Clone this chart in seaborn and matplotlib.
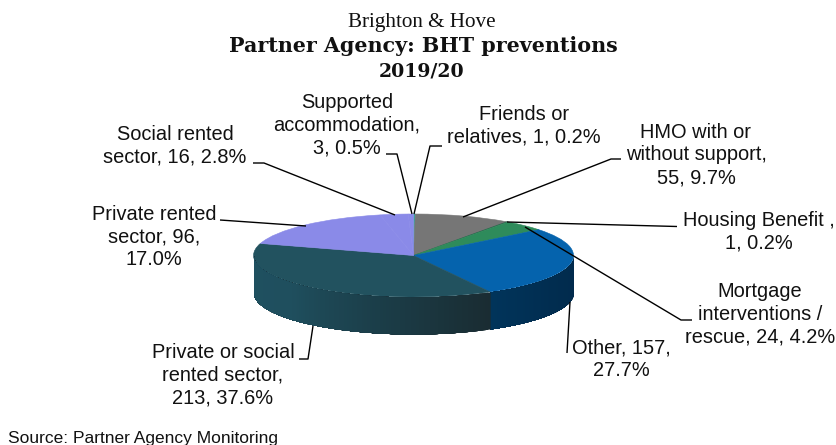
import numpy as np
import pandas as pd
import seaborn as sns
import matplotlib
matplotlib.use("Agg")
import matplotlib.pyplot as plt

categories = ["Friends or relatives", "HMO with or without support", "Housing Benefit",
              "Mortgage interventions / rescue", "Other", "Private or social rented sector",
              "Private rented sector", "Social rented sector", "Supported accommodation"]
counts = [1, 55, 1, 24, 157, 213, 96, 16, 3]
percents = ["0.2%", "9.7%", "0.2%", "4.2%", "27.7%", "37.6%", "17.0%", "2.8%", "0.5%"]
top_colors = ["#35a6a0", "#767676", "#2f5f4c", "#2e8b5b", "#0563ad", "#22525f",
              "#8a8ae8", "#8a8ae8", "#8a8ae8"]
# side wall shades, only the slices on the front half show
wall_colors = {4: ["#012a4c", "#012d50", "#01345a"],
               5: ["#1a2c32", "#1b3d48", "#1f4f5e", "#1f5060"]}

title_top = "Brighton & Hove"
title_main = "Partner Agency: BHT preventions"
title_year = "2019/20"
source_note = "Source: Partner Agency Monitoring"

df = pd.DataFrame({"category": categories, "count": counts, "pct": percents})

sns.set_theme(style="white")
plt.rcParams["font.family"] = ["Liberation Sans", "DejaVu Sans"]

W, H = 836, 445
CX, CY, RX, RY, DEPTH = 413.5, 255.5, 160, 41.5, 37

fig = plt.figure(figsize=(W / 100, H / 100), dpi=100)
ax = fig.add_axes([0, 0, 1, 1])


def px(x, y):
    # picture pixels to the pie's unit circle coordinates
    return (x - CX) / RX, (CY - y) / RY


# top of the pie
wedges, _ = ax.pie(df["count"], colors=top_colors, startangle=90, counterclock=False,
                   center=(0, 0), radius=1)
for w in wedges:
    w.set_edgecolor(w.get_facecolor())
    w.set_linewidth(0.4)
ax.set_aspect("auto")
ax.set_xlim(px(0, 0)[0], px(W, 0)[0])
ax.set_ylim(px(0, H)[1], px(0, 0)[1])
ax.axis("off")

# side wall: overlapping strips along the front half, shaded from each slice's palette
edges = np.cumsum([0] + counts) / sum(counts) * 360
depth = DEPTH / RY
for i in range(len(counts)):
    a0, a1 = edges[i], edges[i + 1]
    a0, a1 = max(a0, 90), min(a1, 270)
    if a1 <= a0 or i not in wall_colors:
        continue
    n = int(a1 - a0) + 2
    shades = sns.blend_palette(wall_colors[i], n)
    steps = np.linspace(a0, a1, n + 1)
    for j in range(n):
        # each strip runs on to the end of its slice, the next one paints over it
        ang = np.radians(np.linspace(steps[j], a1, 60))
        x = np.sin(ang)
        y = np.cos(ang)
        ax.fill_between(x, y, y - depth, color=shades[j], linewidth=0, zorder=0.5 + i + j * 0.001)

# leader lines, in picture pixels
leaders = [
    [(442, 146), (430, 146), (414, 214)],
    [(463, 217), (611, 159), (621, 159)],
    [(507, 222), (677, 226.5)],
    [(525, 227), (681, 320), (692, 320)],
    [(570, 302), (567, 353)],
    [(313, 326), (308, 359), (299, 359)],
    [(220, 220), (306, 226)],
    [(253, 163), (264, 163), (395, 215)],
    [(386, 154), (397, 154), (412, 214)],
]
for pts in leaders:
    xy = np.array([px(*p) for p in pts])
    ax.plot(xy[:, 0], xy[:, 1], color="black", lw=1.0, zorder=30, solid_capstyle="butt")

label_text = [
    "Friends or\nrelatives, 1, 0.2%",
    "HMO with or\nwithout support,\n55, 9.7%",
    "Housing Benefit ,\n1, 0.2%",
    "Mortgage\ninterventions /\nrescue, 24, 4.2%",
    "Other, 157,\n27.7%",
    "Private or social\nrented sector,\n213, 37.6%",
    "Private rented\nsector, 96,\n17.0%",
    "Social rented\nsector, 16, 2.8%",
    "Supported\naccommodation,\n3, 0.5%",
]
label_pos = [(524, 126), (696, 155), (759, 232), (760, 314), (621, 359),
             (223, 375), (154, 237), (175, 146), (347, 125)]
for s, (lx, ly) in zip(label_text, label_pos):
    ax.text(*px(lx, ly), s, ha="center", va="center", fontsize=14.4,
            linespacing=1.25, color="#111111", zorder=40)

# title block
ax.text(*px(422, 22.5), title_top, ha="center", va="center", fontsize=15.2,
        family="Liberation Serif", color="#111111")
ax.text(*px(423, 46), title_main, ha="center", va="center", fontsize=14.9,
        family="DejaVu Serif", weight="bold", color="#111111")
ax.text(*px(422, 71), title_year, ha="center", va="center", fontsize=13.6,
        family="DejaVu Serif", weight="bold", color="#111111")
ax.text(*px(8, 438.5), source_note, ha="left", va="center", fontsize=12.5, color="#111111")

fig.savefig("out.png", dpi=100)
